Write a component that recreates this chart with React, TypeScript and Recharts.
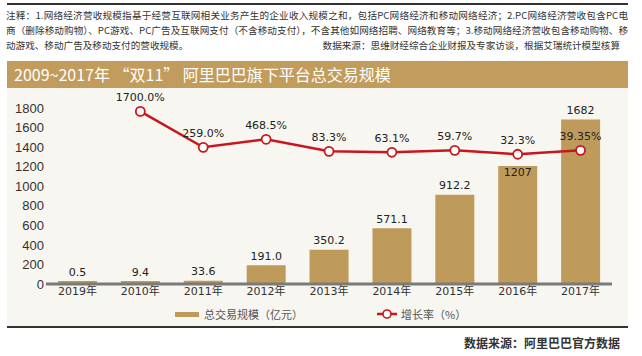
import React from 'react';
import { ComposedChart, Bar, Line, XAxis, YAxis, LabelList } from 'recharts';

const years = ['2019年', '2010年', '2011年', '2012年', '2013年', '2014年', '2015年', '2016年', '2017年'];
const gmv = [0.5, 9.4, 33.6, 191.0, 350.2, 571.1, 912.2, 1207, 1682];
// growth labels, and where the designer drew each point (read in left-axis units)
const growthLabels = ['', '1700.0%', '259.0%', '468.5%', '83.3%', '63.1%', '59.7%', '32.3%', '39.35%'];
const growthPos = [null, 1765, 1398, 1480, 1357, 1347, 1367, 1327, 1367];
const yTicks = [0, 200, 400, 600, 800, 1000, 1200, 1400, 1600, 1800];

const data = years.map((year, i) => ({
    year,
    gmv: gmv[i],
    growth: growthPos[i],
    growthLabel: growthLabels[i],
}));

const GOLD = '#bf9b5b';
const RED = '#c8161d';
const NUM_FONT = '"DejaVu Sans", "Noto Sans CJK SC", sans-serif';
const CJK_FONT = '"Noto Sans CJK SC", "Liberation Sans", sans-serif';

const BarValueLabel = (props: any) => {
    const { x, y, width, value, index } = props;
    const text = value >= 1000 ? String(value) : value.toFixed(1);
    // 1207 sits just inside the bar top so it doesn't hit the line
    const ty = index === 7 ? y + 7 : y - 9;
    return (
        <text x={x + width / 2} y={ty} textAnchor="middle" dominantBaseline="central"
            fontSize={11} fill="#222" fontFamily={NUM_FONT}>
            {text}
        </text>
    );
};

const GrowthLabel = (props: any) => {
    const { x, y, index } = props;
    const label = growthLabels[index];
    if (!label) return null;
    return (
        <text x={x} y={y - 14} textAnchor="middle" dominantBaseline="central"
            fontSize={11} fill="#222" fontFamily={NUM_FONT}>
            {label}
        </text>
    );
};

const justifyLine: React.CSSProperties = {
    textAlign: 'justify',
    textAlignLast: 'justify',
    height: 15,
    lineHeight: '15px',
    whiteSpace: 'nowrap',
    overflow: 'hidden',
};

export default function App() {
    return (
        <div style={{ position: 'fixed', left: 0, top: 0, width: 642, height: 356, background: '#fff', overflow: 'hidden', fontFamily: CJK_FONT }}>
            {/* top rule */}
            <div style={{ position: 'absolute', left: 7, top: 3, width: 621, height: 2, background: '#333' }} />
            {/* note */}
            <div style={{ position: 'absolute', left: 6, top: 8, width: 622, fontSize: 9.6, color: '#333' }}>
                <div style={{ ...justifyLine, whiteSpace: 'normal' }}>注释：1.网络经济营收规模指基于经营互联网相关业务产生的企业收入规模之和，包括PC网络经济和移动网络经济；2.PC网络经济营收包含PC电</div>
                <div style={{ ...justifyLine, whiteSpace: 'normal' }}>商（删除移动购物）、PC游戏、PC广告及互联网支付（不含移动支付），不含其他如网络招聘、网络教育等；3.移动网络经济营收包含移动购物、移</div>
                <div style={{ display: 'flex', justifyContent: 'space-between', height: 15, lineHeight: '15px' }}>
                    <span>动游戏、移动广告及移动支付的营收规模。</span>
                    <span style={{ marginRight: 8 }}>数据来源：思维财经综合企业财报及专家访谈，根据艾瑞统计模型核算</span>
                </div>
            </div>
            {/* title bar */}
            <div style={{ position: 'absolute', left: 7, top: 61, width: 621, height: 27, background: '#c19c5d', color: '#fff', fontSize: 16, lineHeight: '27px', paddingLeft: 7, boxSizing: 'border-box' }}>
                2009~2017年 “双11” 阿里巴巴旗下平台总交易规模
            </div>
            {/* chart panel */}
            <div style={{ position: 'absolute', left: 7, top: 88, width: 621, height: 238, background: '#f8f6f0' }} />
            <div style={{ position: 'absolute', left: 0, top: 0 }}>
                <ComposedChart width={642} height={356} data={data}
                    margin={{ top: 108, right: 30, bottom: 52, left: 6 }}>
                    <XAxis dataKey="year" height={20} tickLine={false} tickSize={0} tickMargin={3}
                        axisLine={{ stroke: '#7a7a7a', strokeWidth: 3 }}
                        tick={{ fontSize: 11, fill: '#333', fontFamily: NUM_FONT }} interval={0} />
                    <YAxis width={40} domain={[0, 1800]} ticks={yTicks} interval={0} axisLine={false} tickLine={false}
                        tickSize={0} tickMargin={2}
                        tick={{ fontSize: 13, fill: '#333', fontFamily: '"Liberation Sans", sans-serif' }} />
                    <Bar dataKey="gmv" fill={GOLD} barSize={39} minPointSize={3} isAnimationActive={false}>
                        <LabelList dataKey="gmv" content={<BarValueLabel />} />
                    </Bar>
                    <Line dataKey="growth" stroke={RED} strokeWidth={2.5} connectNulls
                        dot={{ r: 4.5, fill: '#fff', stroke: RED, strokeWidth: 1.8 }}
                        isAnimationActive={false}>
                        <LabelList dataKey="growth" content={<GrowthLabel />} />
                    </Line>
                </ComposedChart>
            </div>
            {/* legend */}
            <div style={{ position: 'absolute', left: 175, top: 312, width: 24, height: 5, background: GOLD }} />
            <div style={{ position: 'absolute', left: 204, top: 306, fontSize: 11, color: '#555', lineHeight: '16px' }}>总交易规模（亿元）</div>
            <svg style={{ position: 'absolute', left: 376, top: 308 }} width={24} height={12}>
                <line x1={1} y1={6} x2={21} y2={6} stroke={RED} strokeWidth={2.5} />
                <circle cx={11} cy={6} r={4} fill="#fff" stroke={RED} strokeWidth={1.6} />
            </svg>
            <div style={{ position: 'absolute', left: 401, top: 306, fontSize: 11, color: '#555', lineHeight: '16px' }}>增长率（%）</div>
            {/* bottom rule + source */}
            <div style={{ position: 'absolute', left: 7, top: 326, width: 621, height: 1.5, background: '#333' }} />
            <div style={{ position: 'absolute', right: 22, top: 335, fontSize: 12, fontWeight: 'bold', color: '#333', lineHeight: '16px' }}>数据来源：阿里巴巴官方数据</div>
        </div>
    );
}
